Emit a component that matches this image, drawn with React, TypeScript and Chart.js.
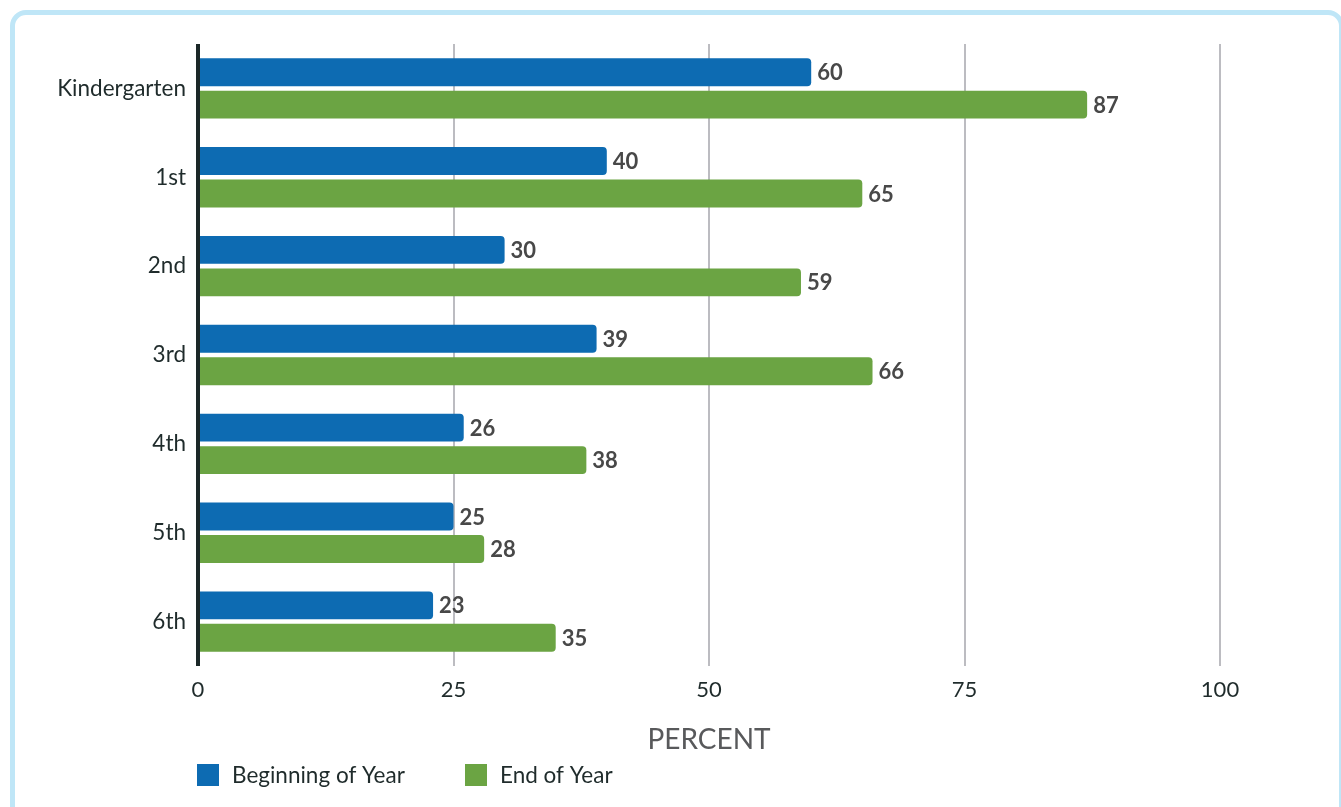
import React, { useEffect, useRef } from "react";
import { Chart, registerables } from "chart.js";

Chart.register(...registerables);

const categories = ["Kindergarten", "1st", "2nd", "3rd", "4th", "5th", "6th"];
const beginningOfYear = [60, 40, 30, 39, 26, 25, 23];
const endOfYear = [87, 65, 59, 66, 38, 28, 35];
const seriesLabels = ["Beginning of Year", "End of Year"];
const xTicks = [0, 25, 50, 75, 100];
const axisTitle = "PERCENT";

const BLUE = "#0d6bb2";
const GREEN = "#6ba443";
const FONT = "Lato, 'Open Sans', sans-serif";

const valueLabelPlugin = {
  id: "valueLabels",
  afterDatasetsDraw(chart: any) {
    const ctx = chart.ctx;
    ctx.save();
    ctx.font = `bold 22px ${FONT}`;
    ctx.fillStyle = "#484848";
    ctx.textAlign = "left";
    ctx.textBaseline = "middle";
    chart.data.datasets.forEach((ds: any, di: number) => {
      const meta = chart.getDatasetMeta(di);
      meta.data.forEach((bar: any, i: number) => {
        ctx.fillText(String(ds.data[i]), bar.x + 6, bar.y + 1);
      });
    });
    ctx.restore();
  },
};

const legendPlugin = {
  id: "customLegend",
  afterDraw(chart: any) {
    const ctx = chart.ctx;
    const left = chart.chartArea.left;
    const items = [
      { x: left - 1, color: BLUE, text: seriesLabels[0] },
      { x: left + 267, color: GREEN, text: seriesLabels[1] },
    ];
    ctx.save();
    ctx.font = `22.5px ${FONT}`;
    ctx.textAlign = "left";
    ctx.textBaseline = "middle";
    items.forEach((it) => {
      ctx.fillStyle = it.color;
      ctx.fillRect(it.x, 764, 22, 22);
      ctx.fillStyle = "#1f2b2b";
      ctx.fillText(it.text, it.x + 35, 776);
    });
    ctx.restore();
  },
};

export default function App() {
  const canvasRef = useRef<HTMLCanvasElement | null>(null);

  useEffect(() => {
    document.documentElement.style.overflow = "hidden";
    document.body.style.overflow = "hidden";
    const canvas = canvasRef.current;
    if (!canvas) return;
    const chart = new Chart(canvas, {
      type: "bar",
      data: {
        labels: categories,
        datasets: [
          {
            label: seriesLabels[0],
            data: beginningOfYear,
            backgroundColor: BLUE,
            borderRadius: 4,
            borderSkipped: "start",
            barPercentage: 0.86,
            categoryPercentage: 0.73,
          },
          {
            label: seriesLabels[1],
            data: endOfYear,
            backgroundColor: GREEN,
            borderRadius: 4,
            borderSkipped: "start",
            barPercentage: 0.86,
            categoryPercentage: 0.73,
          },
        ],
      },
      options: {
        indexAxis: "y",
        animation: false,
        responsive: false,
        maintainAspectRatio: false,
        layout: { padding: { left: 0, top: 44, right: 121, bottom: 0 } },
        plugins: {
          legend: { display: false },
          tooltip: { enabled: false },
          title: { display: false },
        },
        scales: {
          x: {
            min: 0,
            max: 100,
            afterBuildTicks: (scale: any) => {
              scale.ticks = xTicks.map((v) => ({ value: v }));
            },
            afterFit: (scale: any) => {
              scale.height = 141;
            },
            border: { display: false },
            grid: {
              drawTicks: false,
              color: (c: any) => (c.tick && c.tick.value === 0 ? "#1b2727" : "#bcbcc1"),
              lineWidth: (c: any) => (c.tick && c.tick.value === 0 ? 4 : 2),
            },
            ticks: {
              padding: 11,
              color: "#1f2b2b",
              font: { family: FONT, size: 22 },
            },
            title: {
              display: true,
              text: axisTitle,
              color: "#58595b",
              font: { family: FONT, size: 28 },
              padding: { top: 0, bottom: 50 },
            },
          },
          y: {
            afterFit: (scale: any) => {
              scale.width = 198;
            },
            border: { display: false },
            grid: { display: false, drawTicks: false },
            ticks: {
              padding: 12,
              color: "#1f2b2b",
              font: { family: FONT, size: 22.5 },
            },
          },
        },
      },
      plugins: [valueLabelPlugin, legendPlugin],
    });
    return () => chart.destroy();
  }, []);

  return (
    <div
      style={{
        position: "fixed",
        left: 0,
        top: 0,
        width: 1341,
        height: 807,
        overflow: "hidden",
        background: "#fff",
      }}
    >
      <div
        style={{
          position: "absolute",
          left: 10,
          top: 10,
          width: 1334,
          height: 900,
          boxSizing: "border-box",
          border: "5px solid #bfe6f7",
          borderRadius: 16,
        }}
      />
      <canvas
        ref={canvasRef}
        width={1341}
        height={807}
        style={{ position: "absolute", left: 0, top: 0, width: 1341, height: 807 }}
      />
    </div>
  );
}
